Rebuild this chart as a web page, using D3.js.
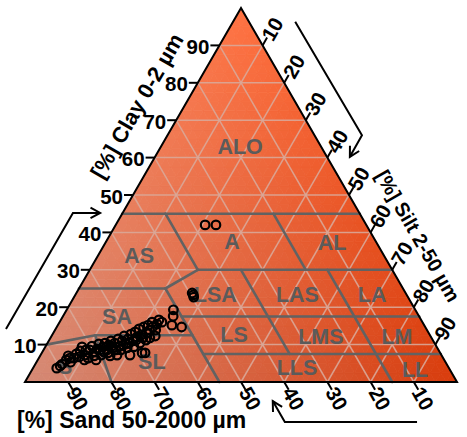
<!DOCTYPE html>
<html><head><meta charset="utf-8">
<script src="https://cdn.jsdelivr.net/npm/d3@7"></script>
<style>body{margin:0;background:#fff}svg{display:block}</style>
</head><body>
<script>
// ---------- data ----------
const clayTicks = [10,20,30,40,50,60,70,80,90];
const sandTicks = [90,80,70,60,50,40,30,20,10];
const siltTicks = [10,20,30,40,50,60,70,80,90];

// texture class labels (name, clay %, silt %)
const classNames = ["ALO","A","AL","AS","LSA","LAS","LA","SA","LS","LMS","LM","SL","LLS","LL","S"];
const classClay  = [62.8,37.4,37.2,33.7,23.3,23.3,23.3,17.4,12.6,12.0,12.0,5.3,3.7,3.2,4.0];
const classSilt  = [18.4,29.2,52.5,9.6,32.4,51.4,68.7,12.6,42.1,62.5,80.1,26.7,61.1,88.7,7.3];

// class boundaries as polylines of [clay %, sand %]
const boundaries = [
  [[45,55],[45,0]],
  [[45,45],[30,45]],
  [[45,20],[30,20]],
  [[30,45],[30,0]],
  [[30,45],[25,55]],
  [[25,75],[25,55]],
  [[25,55],[0,55]],
  [[17.5,55],[17.5,0]],
  [[30,35],[7.5,35]],
  [[30,15],[0,15]],
  [[7.5,55],[7.5,0]],
  [[10,90],[12.5,77.5],[12.5,55]],
  [[12.5,77.5],[0,80]]
];

// samples (clay %, silt %), sand = 100 - clay - silt
const sampleClay = [3.7,4.8,5.9,7.0,5.3,7.5,8.3,9.4,7.2,6.4,8.6,9.6,8.0,8.8,10.2,7.2,9.4,10.4,8.6,9.9,
  11.0,9.1,10.4,7.2,11.5,9.6,11.0,12.3,10.2,11.5,7.2,12.8,11.0,13.4,12.0,14.2,12.6,7.8,14.7,7.8,
  13.1,15.2,13.9,16.0,14.7,12.3,15.5,16.6,8.6,7.0,8.6,7.8,9.6,8.6,9.1,9.4,10.4,11.2,6.7,6.4,
  4.3,6.4,5.9,5.9,8.0,7.0,8.6,9.9,10.4,11.2,11.8,11.8,13.9,16.0,
  19.3,17.6,15.2,14.7,23.3,22.7,23.8,42.0,42.0];
const sampleSilt = [5.5,6.2,6.6,6.5,7.9,8.1,8.6,8.5,10.3,11.4,10.7,10.7,12.2,12.3,12.0,14.0,13.4,13.3,14.7,14.5,
  14.4,15.9,15.6,17.7,15.8,17.2,17.0,16.8,18.3,18.1,20.7,18.1,19.5,18.8,19.9,19.3,20.6,23.2,20.1,23.9,
  21.6,20.9,21.9,21.4,22.2,24.0,22.8,22.7,9.8,12.5,13.1,15.3,15.3,17.9,19.1,20.5,21.4,22.4,9.2,8.1,
  6.0,7.2,10.8,13.5,14.3,16.2,16.8,17.8,18.9,20.1,21.4,23.0,23.3,23.7,
  24.7,25.5,26.4,28.9,27.3,27.7,26.8,20.7,23.2];

// axis arrows as [clay %, silt %] guide points
const arrowClay = [[14.2,-11.5],[45.2,-11.5],[45.2,-5.2]];
const arrowSilt = [[96.3,14.4],[66.0,45.0],[60.2,45.1]];
const arrowSand = [[-10.7,96.1],[-10.7,65.5],[-5.1,59.9]];

// ---------- drawing ----------
const W = 467, H = 437;
const svg = d3.select("body").append("svg").attr("width", W).attr("height", H);
const xs = d3.scaleLinear().domain([0,100]).range([25,457]);   // silt + clay/2
const ys = d3.scaleLinear().domain([0,100]).range([382,8]);    // clay
const P = (clay, silt) => [xs(silt + clay/2), ys(clay)];
const PS = (clay, sand) => P(clay, 100 - clay - sand);

const cClay = d3.rgb(255,114,66), cSand = d3.rgb(212,138,118), cSilt = d3.rgb(216,60,12);
function mix(c, s) {
  const d = 1 - c - s;
  return d3.rgb(c*cClay.r + s*cSilt.r + d*cSand.r, c*cClay.g + s*cSilt.g + d*cSand.g, c*cClay.b + s*cSilt.b + d*cSand.b);
}

// background gradient as small triangles
const n = 40, bg = svg.append("g");
const tris = [];
for (let a = 0; a < n; a++) {
  for (let b = 0; a + b < n; b++) {
    tris.push([[a,b],[a,b+1],[a+1,b]]);
    if (a + b + 2 <= n) tris.push([[a+1,b],[a,b+1],[a+1,b+1]]);
  }
}
bg.selectAll("path").data(tris).join("path")
  .attr("d", t => "M" + t.map(v => P(v[0]*100/n, v[1]*100/n).join(",")).join("L") + "Z")
  .each(function(t) {
    const c = (t[0][0]+t[1][0]+t[2][0])/(3*n), s = (t[0][1]+t[1][1]+t[2][1])/(3*n);
    const col = mix(c, s).toString();
    d3.select(this).attr("fill", col).attr("stroke", col).attr("stroke-width", 0.8);
  });

// grid
const grid = svg.append("g").attr("stroke", "#d9a798").attr("stroke-opacity", 0.9).attr("stroke-width", 1.5).attr("fill", "none");
const gl = [];
for (let v = 10; v < 100; v += 10) {
  gl.push([P(v,0), P(v,100-v)]);
  gl.push([P(0,v), P(100-v,v)]);
  gl.push([P(0,100-v), P(100-v,0)]);
}
grid.selectAll("line").data(gl).join("line")
  .attr("x1", d => d[0][0]).attr("y1", d => d[0][1]).attr("x2", d => d[1][0]).attr("y2", d => d[1][1]);

// class boundaries
const line = d3.line();
svg.append("g").selectAll("path").data(boundaries).join("path")
  .attr("d", d => line(d.map(p => PS(p[0], p[1]))))
  .attr("fill", "none").attr("stroke", "#626262").attr("stroke-width", 2.6).attr("stroke-linecap", "round");

// class labels
svg.append("g").selectAll("text").data(classNames).join("text")
  .attr("x", (d,i) => P(classClay[i], classSilt[i])[0])
  .attr("y", (d,i) => P(classClay[i], classSilt[i])[1])
  .attr("text-anchor", "middle").attr("dominant-baseline", "central")
  .attr("font-family", "Liberation Sans, Arial, sans-serif").attr("font-weight", "bold")
  .attr("font-size", 21.5).attr("fill", "#5b5b5b").text(d => d);

// outline
svg.append("path").attr("d", line([P(0,0), P(0,100), P(100,0)]) + "Z")
  .attr("fill", "none").attr("stroke", "#000").attr("stroke-width", 2);

// ticks
const tk = svg.append("g").attr("stroke", "#000").attr("stroke-width", 2);
const txt = svg.append("g").attr("font-family", "Liberation Sans, Arial, sans-serif")
  .attr("font-weight", "bold").attr("font-size", 20.5).attr("fill", "#000");
const L = 9;
clayTicks.forEach(v => {
  const [x, y] = P(v, 0);
  tk.append("line").attr("x1", x).attr("y1", y).attr("x2", x - L).attr("y2", y);
  txt.append("text").attr("x", x - L - 1).attr("y", y + 1).attr("text-anchor", "end")
    .attr("dominant-baseline", "central").text(v);
});
const dS = [0.5, 0.866];
sandTicks.forEach(v => {
  const [x, y] = PS(0, v);
  tk.append("line").attr("x1", x).attr("y1", y).attr("x2", x + dS[0]*L).attr("y2", y + dS[1]*L);
  const cx = x + dS[0]*19, cy = y + dS[1]*19;
  txt.append("text").attr("transform", `translate(${cx},${cy}) rotate(60)`)
    .attr("text-anchor", "middle").attr("dominant-baseline", "central").text(v);
});
const dT = [0.5, -0.866];
siltTicks.forEach(v => {
  const [x, y] = P(100 - v, v);
  tk.append("line").attr("x1", x).attr("y1", y).attr("x2", x + dT[0]*L).attr("y2", y + dT[1]*L);
  const cx = x + dT[0]*19, cy = y + dT[1]*19;
  txt.append("text").attr("transform", `translate(${cx},${cy}) rotate(-60)`)
    .attr("text-anchor", "middle").attr("dominant-baseline", "central").text(v);
});

// axis titles
const tt = svg.append("g").attr("font-family", "Liberation Sans, Arial, sans-serif")
  .attr("font-weight", "bold").attr("fill", "#000");
tt.append("text").attr("transform", "translate(137,106) rotate(-60)").attr("font-size", 22)
  .attr("text-anchor", "middle").attr("dominant-baseline", "central").text("[%] Clay 0-2 µm");
tt.append("text").attr("transform", "translate(418,236) rotate(60)").attr("font-size", 20)
  .attr("text-anchor", "middle").attr("dominant-baseline", "central").text("[%] Silt 2-50 µm");
tt.append("text").attr("x", 17).attr("y", 428).attr("font-size", 23).text("[%] Sand 50-2000 µm");

// arrows
function arrow(pts) {
  const pp = pts.map(p => P(p[0], p[1]));
  svg.append("path").attr("d", line(pp)).attr("fill", "none").attr("stroke", "#000").attr("stroke-width", 2);
  const [a, b] = pp.slice(-2);
  const ang = Math.atan2(b[1]-a[1], b[0]-a[0]), s = 11;
  const h = [[b[0] - s*Math.cos(ang - 0.5), b[1] - s*Math.sin(ang - 0.5)], b,
             [b[0] - s*Math.cos(ang + 0.5), b[1] - s*Math.sin(ang + 0.5)]];
  svg.append("path").attr("d", line(h)).attr("fill", "none").attr("stroke", "#000").attr("stroke-width", 2);
}
arrow(arrowClay); arrow(arrowSilt); arrow(arrowSand);

// samples
svg.append("g").selectAll("circle").data(sampleClay).join("circle")
  .attr("cx", (d,i) => P(d, sampleSilt[i])[0])
  .attr("cy", (d,i) => P(d, sampleSilt[i])[1])
  .attr("r", 4.3).attr("fill", "none").attr("stroke", "#000").attr("stroke-width", 2.2);
</script>
</body></html>
